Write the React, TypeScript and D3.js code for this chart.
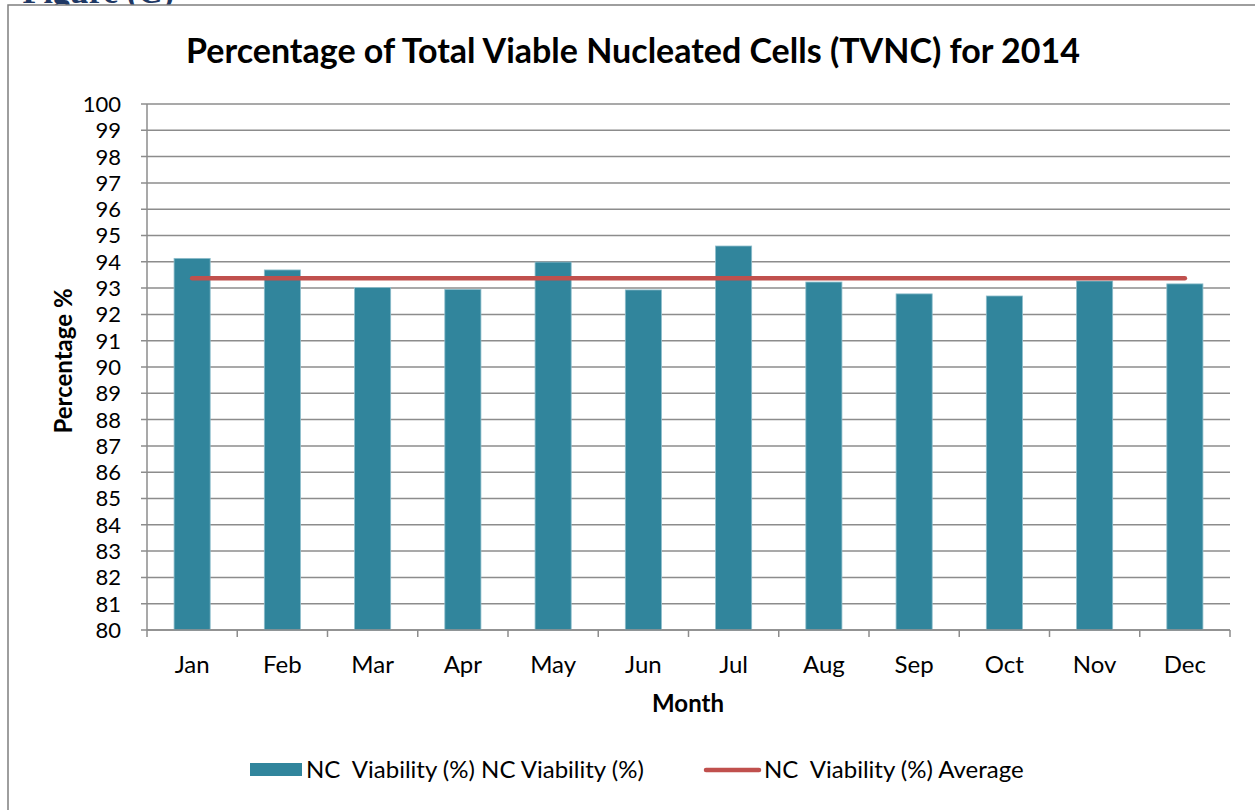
import { useEffect, useRef } from "react";
import * as d3 from "d3";

const months = ["Jan", "Feb", "Mar", "Apr", "May", "Jun", "Jul", "Aug", "Sep", "Oct", "Nov", "Dec"];
const viability = [94.13, 93.69, 93.02, 92.95, 93.99, 92.93, 94.6, 93.23, 92.78, 92.7, 93.27, 93.16];
const yTicks = d3.range(80, 101, 1);

const barColor = "#31859C";
const lineColor = "#C0504D";
const gridColor = "#8C8C8C";
const font = "Lato, 'Open Sans', sans-serif";

export default function App() {
  const svgRef = useRef<SVGSVGElement>(null);

  useEffect(() => {
    if (!svgRef.current) return;
    const width = 1255;
    const height = 810;
    const m = { left: 147, right: 1230, top: 104, bottom: 630 };

    const svg = d3.select(svgRef.current);
    svg.selectAll("*").remove();

    svg.append("rect").attr("width", width).attr("height", height).attr("fill", "white");

    // caption above the chart frame, mostly cut off by the page edge
    svg
      .append("text")
      .attr("x", 174)
      .attr("y", 3)
      .attr("text-anchor", "end")
      .attr("font-family", "'Liberation Serif', serif")
      .attr("font-weight", "bold")
      .attr("font-size", 34)
      .attr("fill", "#1F3864")
      .text("Figure (C)");

    // chart frame
    svg
      .append("rect")
      .attr("x", 8)
      .attr("y", 5)
      .attr("width", 1300)
      .attr("height", 900)
      .attr("fill", "white")
      .attr("stroke", "#7F7F7F")
      .attr("stroke-width", 1.5);

    svg
      .append("text")
      .attr("x", 633)
      .attr("y", 63)
      .attr("text-anchor", "middle")
      .attr("font-family", font)
      .attr("font-weight", "bold")
      .attr("font-size", 34)
      .text("Percentage of Total Viable Nucleated Cells (TVNC) for 2014");

    const x = d3.scaleBand<string>().domain(months).range([m.left, m.right]).paddingInner(0.6).paddingOuter(0.3);
    const xOuter = d3.scaleBand<string>().domain(months).range([m.left, m.right]);
    const y = d3.scaleLinear().domain([80, 100]).range([m.bottom, m.top]);

    // gridlines
    svg
      .append("g")
      .selectAll("line")
      .data(yTicks)
      .join("line")
      .attr("x1", m.left - 6)
      .attr("x2", m.right)
      .attr("y1", (d) => y(d))
      .attr("y2", (d) => y(d))
      .attr("stroke", gridColor)
      .attr("stroke-width", 1.5);

    // y tick labels
    svg
      .append("g")
      .selectAll("text")
      .data(yTicks)
      .join("text")
      .attr("x", 121)
      .attr("y", (d) => y(d))
      .attr("dy", "0.36em")
      .attr("text-anchor", "end")
      .attr("font-family", font)
      .attr("font-size", 22)
      .text((d) => d);

    // bars
    svg
      .append("g")
      .selectAll("rect")
      .data(viability)
      .join("rect")
      .attr("x", (_, i) => x(months[i])!)
      .attr("y", (d) => y(d))
      .attr("width", x.bandwidth())
      .attr("height", (d) => y(80) - y(d))
      .attr("fill", barColor)
      .attr("stroke", "#8DBDCB")
      .attr("stroke-width", 0.8);

    // average line
    const avg = d3.mean(viability)!;
    const line = d3
      .line<string>()
      .x((d) => x(d)! + x.bandwidth() / 2)
      .y(() => y(avg));
    svg
      .append("path")
      .attr("d", line(months))
      .attr("fill", "none")
      .attr("stroke", lineColor)
      .attr("stroke-width", 4.5)
      .attr("stroke-linecap", "round");

    // axes lines
    svg
      .append("line")
      .attr("x1", m.left)
      .attr("x2", m.left)
      .attr("y1", m.top)
      .attr("y2", m.bottom + 7)
      .attr("stroke", gridColor)
      .attr("stroke-width", 1.5);
    svg
      .append("line")
      .attr("x1", m.left)
      .attr("x2", m.right)
      .attr("y1", m.bottom)
      .attr("y2", m.bottom)
      .attr("stroke", gridColor)
      .attr("stroke-width", 1.5);
    svg
      .append("g")
      .selectAll("line")
      .data(months)
      .join("line")
      .attr("x1", (d) => xOuter(d)! + xOuter.bandwidth())
      .attr("x2", (d) => xOuter(d)! + xOuter.bandwidth())
      .attr("y1", m.bottom)
      .attr("y2", m.bottom + 7)
      .attr("stroke", gridColor)
      .attr("stroke-width", 1.5);

    // x labels
    svg
      .append("g")
      .selectAll("text")
      .data(months)
      .join("text")
      .attr("x", (d) => xOuter(d)! + xOuter.bandwidth() / 2)
      .attr("y", 673)
      .attr("text-anchor", "middle")
      .attr("font-family", font)
      .attr("font-size", 24)
      .text((d) => d);

    svg
      .append("text")
      .attr("x", 688)
      .attr("y", 712)
      .attr("text-anchor", "middle")
      .attr("font-family", font)
      .attr("font-weight", "bold")
      .attr("font-size", 24)
      .text("Month");

    svg
      .append("text")
      .attr("transform", "translate(72,361) rotate(-90)")
      .attr("text-anchor", "middle")
      .attr("font-family", font)
      .attr("font-weight", "bold")
      .attr("font-size", 24)
      .text("Percentage %");

    // legend
    const lg = svg.append("g").attr("font-family", font).attr("font-size", 24);
    lg.append("rect").attr("x", 250).attr("y", 763).attr("width", 52).attr("height", 13).attr("fill", barColor);
    lg.append("text").attr("x", 306).attr("y", 778).text("NC\u00a0 Viability (%) NC Viability (%)");
    lg.append("line")
      .attr("x1", 706)
      .attr("x2", 759)
      .attr("y1", 770)
      .attr("y2", 770)
      .attr("stroke", lineColor)
      .attr("stroke-width", 4.5)
      .attr("stroke-linecap", "round");
    lg.append("text").attr("x", 764).attr("y", 778).text("NC\u00a0 Viability (%) Average");
  }, []);

  return (
    <svg
      ref={svgRef}
      width={1255}
      height={810}
      viewBox="0 0 1255 810"
      style={{ position: "absolute", left: 0, top: 0, display: "block" }}
    />
  );
}
